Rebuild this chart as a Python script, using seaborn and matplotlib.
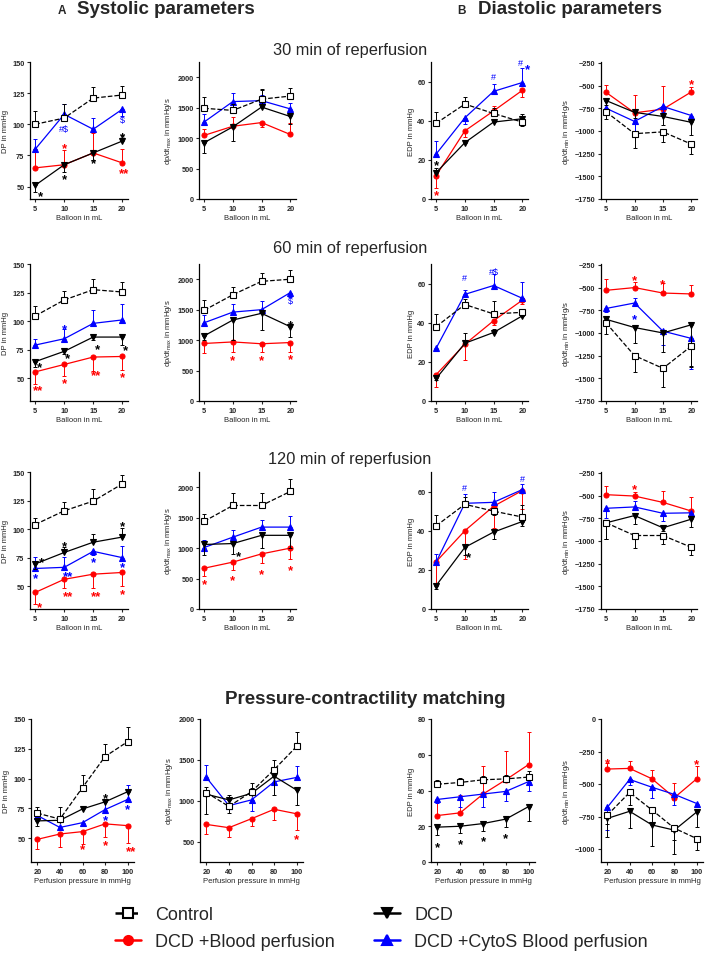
import matplotlib
matplotlib.use('Agg')
import matplotlib.pyplot as plt
from matplotlib.lines import Line2D
import seaborn as sns

# x values
balloon = [5, 10, 15, 20]
pressure = [20, 40, 60, 80, 100]

# group labels
labels = {'ctrl': 'Control', 'dcd': 'DCD', 'blood': 'DCD +Blood perfusion',
          'cytos': 'DCD +CytoS Blood perfusion'}

# ---- 30 min of reperfusion ----
dp30 = {'ctrl': [100, 105, 121, 123.5], 'dcd': [51, 67.5, 77, 86.5],
        'blood': [65, 67.5, 77, 69], 'cytos': [80, 108, 96, 112]}
dp30_err = {'ctrl': [11, 11, 9, 7.5], 'dcd': [-5, -5.5, -6, 4.5],
            'blood': [15, 11.5, 16, 11], 'cytos': [8, 8, 9, -5]}
dp30_sig = [(5.9, 45, '*', 'k'), (10, 97, '#$', 'b'), (10, 83, '*', 'r'), (10, 58, '*', 'k'),
            (15, 71, '*', 'k'), (20, 92, '*', 'k'), (20, 104, '$', 'b'), (20.3, 63, '**', 'r')]

dpmax30 = {'ctrl': [1490, 1455, 1640, 1690], 'dcd': [925, 1185, 1510, 1355],
           'blood': [1045, 1195, 1255, 1060], 'cytos': [1265, 1600, 1615, 1480]}
dpmax30_err = {'ctrl': [190, 100, 160, 140], 'dcd': [-170, -230, 280, -120],
               'blood': [100, 150, -80, 180], 'cytos': [125, 140, 100, 100]}
dpmax30_sig = []

edp30 = {'ctrl': [38.7, 48.5, 43.7, 39.3], 'dcd': [13.5, 28.8, 39.3, 41],
         'blood': [12, 34.8, 45, 55.5], 'cytos': [23, 41.5, 55, 59.5]}
edp30_err = {'ctrl': [6, 3.6, 3, -2], 'dcd': [2.5, 1.5, 1.5, 2.5],
             'blood': [-6.5, -3, 2.5, -3.5], 'cytos': [6.8, -3, 3.8, 7.5]}
edp30_sig = [(5, 19, '*', 'k'), (5, 3.7, '*', 'r'), (15, 62.4, '#', 'b'),
             (19.6, 69.6, '#', 'b'), (20.9, 68, '*', 'b')]

dpmin30 = {'ctrl': [-790, -1030, -1010, -1145], 'dcd': [-665, -795, -840, -905],
           'blood': [-575, -800, -760, -570], 'cytos': [-750, -895, -730, -830]}
dpmin30_err = {'ctrl': [-80, -155, -110, -110], 'dcd': [-50, -60, -90, -140],
               'blood': [85, 200, 260, 50], 'cytos': [-60, -100, -60, -40]}
dpmin30_sig = [(20, -455, '*', 'r')]

# ---- 60 min of reperfusion ----
dp60 = {'ctrl': [104.5, 118.5, 127.5, 125.5], 'dcd': [64.5, 73.5, 86, 86],
        'blood': [55.5, 62, 68.5, 69], 'cytos': [79, 84.5, 98, 101]}
dp60_err = {'ctrl': [8.5, 7.5, 9, 9], 'dcd': [-4.5, -2, -3, -7],
            'blood': [-10.5, -10.5, -12, -12], 'cytos': [5, 8.5, 11.5, 14]}
dp60_sig = [(10, 96, '*', 'b'), (5.8, 62, '*', 'k'), (10.5, 70.5, '*', 'k'), (15.7, 78.5, '*', 'k'),
            (20.5, 77, '*', 'k'), (5.5, 42, '**', 'r'), (10, 48, '*', 'r'), (15.5, 55, '**', 'r'),
            (20, 53.3, '*', 'r')]

dpmax60 = {'ctrl': [1490, 1745, 1965, 2000], 'dcd': [1070, 1330, 1440, 1220],
           'blood': [945, 970, 940, 960], 'cytos': [1285, 1460, 1500, 1780]}
dpmax60_err = {'ctrl': [170, 125, 135, 150], 'dcd': [-60, -330, -280, -170],
               'blood': [-155, -170, -130, -160], 'cytos': [130, 140, 140, -80]}
dpmax60_sig = [(20, 1648, '$', 'b'), (20, 1302, '*', 'k'), (10, 714, '*', 'r'),
               (15, 714, '*', 'r'), (20, 742, '*', 'r')]

edp60 = {'ctrl': [38, 49.3, 44.5, 45.3], 'dcd': [11.5, 29.5, 35, 43.5],
         'blood': [13.5, 29, 41, 51.5], 'cytos': [27, 54.5, 59, 52.5]}
edp60_err = {'ctrl': [6.3, 3, 6.5, -2], 'dcd': [-1, 5, 2, 1.5],
             'blood': [-6.5, -8, -2, -2], 'cytos': [-1, 2, 6, 8.5]}
edp60_sig = [(10, 62.9, '#', 'b'), (15, 66.4, '#$', 'b')]

dpmin60 = {'ctrl': [-890, -1250, -1390, -1145], 'dcd': [-850, -940, -1000, -910],
           'blood': [-530, -500, -560, -570], 'cytos': [-730, -670, -980, -1060]}
dpmin60_err = {'ctrl': [-120, -180, -210, -215], 'dcd': [-60, -170, -210, -460],
               'blood': [120, 60, 110, 100], 'cytos': [-40, 50, -150, -340]}
dpmin60_sig = [(10, -380, '*', 'r'), (15, -433, '*', 'r'), (10, -810, '*', 'b')]

# ---- 120 min of reperfusion ----
dp120 = {'ctrl': [104, 116, 124.5, 139.5], 'dcd': [69.5, 79.5, 88.5, 93],
         'blood': [44.5, 56, 60.5, 62], 'cytos': [65.5, 66.5, 80.5, 75]}
dp120_err = {'ctrl': [6, 8, 11, 8], 'dcd': [-4.5, 4.5, 7, 8],
             'blood': [-10.5, -8, -12, -12], 'cytos': [10, 9, -3, 10]}
dp120_sig = [(6, 74, '*', 'k'), (10, 87.3, '*', 'k'), (20, 105, '*', 'k'), (5, 59.4, '*', 'b'),
             (10.6, 61.5, '**', 'b'), (15, 73.5, '*', 'b'), (20, 69, '*', 'b'), (5.8, 34.2, '*', 'r'),
             (10.6, 43.9, '**', 'r'), (15.5, 43.9, '**', 'r'), (20, 46, '*', 'r')]

dpmax120 = {'ctrl': [1440, 1700, 1700, 1930], 'dcd': [1060, 1075, 1210, 1210],
            'blood': [670, 770, 905, 1000], 'cytos': [1010, 1180, 1345, 1345]}
dpmax120_err = {'ctrl': [120, 210, 200, 210], 'dcd': [-180, -165, -210, -210],
                'blood': [-130, -130, -145, -180], 'cytos': [120, 120, 115, 185]}
dpmax120_sig = [(10.9, 922, '*', 'k'), (5, 450, '*', 'r'), (10, 517, '*', 'r'),
                (15, 628, '*', 'r'), (20, 689, '*', 'r')]

edp120 = {'ctrl': [42.5, 53.5, 50, 47], 'dcd': [12, 31.5, 39.3, 44.7],
          'blood': [24.2, 40, 52.5, 60.5], 'cytos': [24, 54, 54.5, 61]}
edp120_err = {'ctrl': [5.5, 3.5, -2, 6], 'dcd': [-2, -4, -3.5, -2.5],
              'blood': [-11, -14.5, -11, -9.5], 'cytos': [4, 5, 5.5, 3]}
edp120_sig = [(10.7, 28, '*', 'k'), (10, 62.2, '#', 'b'), (20, 66.9, '#', 'b')]

dpmin120 = {'ctrl': [-800, -940, -940, -1070], 'dcd': [-800, -720, -855, -760],
            'blood': [-490, -505, -575, -670], 'cytos': [-640, -625, -695, -690]}
dpmin120_err = {'ctrl': [-180, -135, -90, -90], 'dcd': [-180, -90, -40, -90],
                'blood': [100, 50, 125, 150], 'cytos': [-110, 65, -80, -40]}
dpmin120_sig = [(10, -401, '*', 'r')]

# ---- pressure-contractility matching ----
dppc = {'ctrl': [71, 66, 92.5, 118.5, 131], 'dcd': [64.5, 65, 74.5, 80.5, 89],
        'blood': [49, 53.5, 55.5, 62, 60.5], 'cytos': [69, 59, 63, 74, 82.5]}
dppc_err = {'ctrl': [5, 10.5, 10.5, 10.5, 12], 'dcd': [-4, -1.5, 1.5, 2, 1.5],
            'blood': [-8, -11, -10.5, -11, -14.5], 'cytos': [-1.5, -1.5, -1.5, 9, 12.5]}
dppc_sig = [(80, 86, '*', 'k'), (80, 67.7, '*', 'b'), (100, 77, '*', 'b'), (60, 43, '*', 'r'),
            (80, 46.6, '*', 'r'), (103.2, 41.5, '**', 'r')]

dpmaxpc = {'ctrl': [1100, 930, 1110, 1380, 1665], 'dcd': [1080, 1010, 1090, 1300, 1130],
           'blood': [710, 670, 780, 895, 840], 'cytos': [1285, 940, 1010, 1230, 1285]}
dpmaxpc_err = {'ctrl': [70, 140, 110, 120, 175], 'dcd': [-240, -160, 60, -230, -180],
               'blood': [-120, -110, -90, -135, -200], 'cytos': [155, -40, -140, 80, 145]}
dpmaxpc_sig = [(100, 561, '*', 'r')]

edppc = {'ctrl': [43.5, 44.5, 46, 46.5, 47.5], 'dcd': [19.5, 20, 21.5, 24, 31],
         'blood': [26, 27.5, 38, 46, 54.5], 'cytos': [35, 36.5, 38, 39.5, 45]}
edppc_err = {'ctrl': [2.5, 2.5, 2, 2, 3.5], 'dcd': [-4.5, -4, -4, -4.5, -8],
             'blood': [8.5, 10, 15.5, 16, 18], 'cytos': [-2, -5.5, -7, -5.5, -5.5]}
edppc_sig = [(20, 9.9, '*', 'k'), (40, 11.6, '*', 'k'), (60, 13.1, '*', 'k'), (80, 15, '*', 'k')]

dpminpc = {'ctrl': [-740, -565, -700, -840, -920], 'dcd': [-765, -710, -815, -855, -715],
           'blood': [-385, -380, -460, -605, -460], 'cytos': [-680, -465, -525, -580, -650]}
dpminpc_err = {'ctrl': [-70, -100, -100, -90, -90], 'dcd': [-145, -130, -165, -180, -115],
               'blood': [45, 60, 70, 110, 100], 'cytos': [-170, -40, -85, -85, -30]}
dpminpc_sig = [(20, -317, '*', 'r'), (100, -323, '*', 'r')]

RED = '#ff0000'
BLUE = '#0000ff'
sig_colors = {'k': 'black', 'r': RED, 'b': BLUE}
styles = {
    'blood': dict(color=RED, marker='o', ls='-', mfc=RED, ms=3.6),
    'cytos': dict(color=BLUE, marker='^', ls='-', mfc=BLUE, ms=4.0),
    'dcd': dict(color='black', marker='v', ls='-', mfc='black', ms=4.0),
    'ctrl': dict(color='black', marker='s', ls='--', mfc='white', ms=3.8),
}

sns.set_style('ticks')
plt.rcParams['font.family'] = ['Liberation Sans', 'DejaVu Sans']
plt.rcParams['mathtext.default'] = 'regular'

W, H = 709, 962
fig = plt.figure(figsize=(W / 100, H / 100), dpi=100)


def add_ax(l, r, t, b):
    return fig.add_axes([l / W, 1 - b / H, (r - l) / W, (b - t) / H])


def draw_panel(ax, x, vals, errs, sig, ylim, yticks, ylabel, xlabel, xlim):
    for key in ['blood', 'cytos', 'dcd', 'ctrl']:
        st = styles[key]
        y = vals[key]
        e = errs[key]
        lower = [-v if v < 0 else 0 for v in e]
        upper = [v if v > 0 else 0 for v in e]
        ax.errorbar(x, y, yerr=[lower, upper], fmt='none', ecolor=st['color'],
                    elinewidth=0.7, capsize=1.4, capthick=0.7)
        sns.lineplot(x=x, y=y, ax=ax, color=st['color'], marker=st['marker'],
                     markersize=st['ms'], markerfacecolor=st['mfc'],
                     markeredgecolor=st['color'], markeredgewidth=0.8,
                     linestyle=st['ls'], linewidth=0.9)
    for sx, sy, s, c in sig:
        star = '*' in s
        ax.annotate(s, (sx, sy), xytext=(0, -2.2 if star else 0), textcoords='offset points',
                    ha='center', va='center', color=sig_colors[c], fontsize=9.5 if star else 6.5,
                    fontweight='bold' if star else 'normal')
    ax.set_xlim(*xlim)
    ax.set_ylim(*ylim)
    ax.set_xticks(x)
    ax.set_yticks(yticks)
    ax.set_xlabel(xlabel, fontsize=5.5, labelpad=2)
    ax.set_ylabel(ylabel, fontsize=5.5, labelpad=2)
    ax.tick_params(labelsize=5.3, length=2.5, width=0.8, pad=1.5)
    for lbl in ax.get_xticklabels() + ax.get_yticklabels():
        lbl.set_fontweight('bold')
    sns.despine(ax=ax)
    for sp in ['left', 'bottom']:
        ax.spines[sp].set_linewidth(0.9)
        ax.spines[sp].set_color('black')


rows = [(63, 200), (265, 402), (473, 610), (720, 863)]
cols = [(30, 128), (199, 296), (431, 528), (601, 697)]
cols4 = [(31, 134), (200, 303), (431, 535), (601, 703)]

bx = (4.1, 21)
px = (14.4, 105.6)
bl = 'Balloon in mL'
pl = 'Perfusion pressure in mmHg'
ydp = 'DP in mmHg'
ymax = 'dp/dt$_{max}$ in mmHg/s'
yedp = 'EDP in mmHg'
ymin = 'dp/dt$_{min}$ in mmHg/s'
t_dp = [50, 75, 100, 125, 150]
t_max = [0, 500, 1000, 1500, 2000]
t_edp = [0, 20, 40, 60]
t_min = [-250, -500, -750, -1000, -1250, -1500, -1750]

panels = [
    [(dp30, dp30_err, dp30_sig, (40, 150), t_dp, ydp),
     (dpmax30, dpmax30_err, dpmax30_sig, (0, 2250), t_max, ymax),
     (edp30, edp30_err, edp30_sig, (0, 70), t_edp, yedp),
     (dpmin30, dpmin30_err, dpmin30_sig, (-1750, -240), t_min, ymin)],
    [(dp60, dp60_err, dp60_sig, (30, 150), t_dp, ydp),
     (dpmax60, dpmax60_err, dpmax60_sig, (0, 2250), t_max, ymax),
     (edp60, edp60_err, edp60_sig, (0, 70), t_edp, yedp),
     (dpmin60, dpmin60_err, dpmin60_sig, (-1750, -240), t_min, ymin)],
    [(dp120, dp120_err, dp120_sig, (30, 150), t_dp, ydp),
     (dpmax120, dpmax120_err, dpmax120_sig, (0, 2250), t_max, ymax),
     (edp120, edp120_err, edp120_sig, (0, 70), t_edp, yedp),
     (dpmin120, dpmin120_err, dpmin120_sig, (-1750, -240), t_min, ymin)],
    [(dppc, dppc_err, dppc_sig, (30, 150), t_dp, ydp),
     (dpmaxpc, dpmaxpc_err, dpmaxpc_sig, (250, 2000), [500, 1000, 1500, 2000], ymax),
     (edppc, edppc_err, edppc_sig, (0, 80), [0, 20, 40, 60, 80], yedp),
     (dpminpc, dpminpc_err, dpminpc_sig, (-1100, 0), [0, -250, -500, -750, -1000], ymin)],
]

for ri, (t, b) in enumerate(rows):
    cc = cols4 if ri == 3 else cols
    for ci, (l, r) in enumerate(cc):
        ax = add_ax(l, r, t, b)
        vals, errs, sig, ylim, yt, yl = panels[ri][ci]
        if ri == 3:
            draw_panel(ax, pressure, vals, errs, sig, ylim, yt, yl, pl, px)
        else:
            draw_panel(ax, balloon, vals, errs, sig, ylim, yt, yl, bl, bx)

# titles
fig.text(58 / W, 1 - 11 / H, 'A', fontsize=8.5, fontweight='bold', va='center')
fig.text(77 / W, 1 - 10 / H, 'Systolic parameters', fontsize=13.5, fontweight='bold', va='center')
fig.text(457 / W, 1 - 11 / H, 'B', fontsize=8.5, fontweight='bold', va='center')
fig.text(478 / W, 1 - 10 / H, 'Diastolic parameters', fontsize=13.5, fontweight='bold', va='center')
for txt, yy in [('30 min of reperfusion', 50), ('60 min of reperfusion', 248),
                ('120 min of reperfusion', 460)]:
    fig.text(350 / W, 1 - yy / H, txt, fontsize=11.8, ha='center', va='center')
fig.text(365 / W, 1 - 700 / H, 'Pressure-contractility matching', fontsize=13.5,
         fontweight='bold', ha='center', va='center')

# legend
order = ['ctrl', 'blood', 'dcd', 'cytos']
handles = []
for key in order:
    st = styles[key]
    handles.append(Line2D([], [], color=st['color'], marker=st['marker'], ls=st['ls'],
                          mfc=st['mfc'], mec=st['color'], mew=1.5, ms=6.5, lw=1.8))
fig.legend(handles, [labels[k] for k in order], loc='upper left',
           bbox_to_anchor=(108 / W, 1 - 900 / H), ncol=2, frameon=False, fontsize=13,
           handlelength=1.4, handletextpad=0.8, columnspacing=2.2, labelspacing=0.55,
           borderaxespad=0)

fig.savefig('out.png', dpi=100)
